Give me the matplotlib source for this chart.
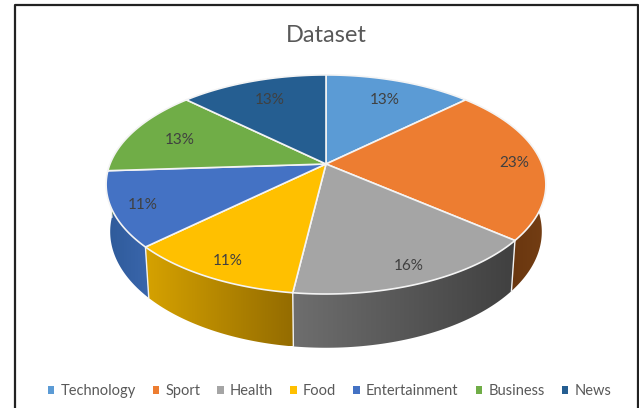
import numpy as np
import matplotlib
matplotlib.use("Agg")
import matplotlib.pyplot as plt
from matplotlib.colors import LinearSegmentedColormap
from matplotlib.patches import Patch, Polygon

categories = ["Technology", "Sport", "Health", "Food", "Entertainment", "Business", "News"]
shares = [13, 23, 16, 11, 11, 13, 13]
colors = ["#5B9BD5", "#ED7D31", "#A5A5A5", "#FFC000", "#4472C4", "#70AD47", "#255E91"]
# side wall shading, left to right
wall_colors = [
    ("#2F5F8F", "#2F5F8F"),
    ("#5A2C08", "#743E14"),
    ("#6E6E6E", "#404040"),
    ("#D6A200", "#946C00"),
    ("#2E5A99", "#3A66AC"),
    ("#46702C", "#46702C"),
    ("#173B5C", "#173B5C"),
]

W, H = 639, 408
CX, CY = 326, 164
TILT = 0.187


def project(theta, r=1.0, sx=216.0, sy=105.7, cy=CY):
    # tilted disc seen in perspective, theta clockwise from twelve o'clock
    x = r * np.sin(theta)
    y = r * np.cos(theta)
    w = 1 + TILT * y
    return CX + sx * x / w, cy - sy * y / w


def arc(start, stop, **kw):
    t = np.linspace(start, stop, 80)
    return np.column_stack(project(t, **kw))


def bottom_arc(start, stop):
    return arc(start, stop, sx=212.0, sy=112.0, cy=210)


plt.rcParams["font.family"] = ["Lato", "DejaVu Sans"]
fig = plt.figure(figsize=(W / 100, H / 100), dpi=100)
ax = fig.add_axes([0, 0, 1, 1])

edges = np.cumsum([0] + shares) / sum(shares) * 2 * np.pi
spans = list(zip(edges[:-1], edges[1:]))

# walls first, the top face hides whatever faces backwards
for (a, b), (c0, c1) in zip(spans, wall_colors):
    outline = np.vstack([arc(a, b), bottom_arc(a, b)[::-1]])
    poly = Polygon(outline, closed=True, fc="none", ec="none")
    ax.add_patch(poly)
    cmap = LinearSegmentedColormap.from_list("wall", [c0, c1])
    img = ax.imshow(
        np.linspace(0, 1, 128).reshape(1, -1), cmap=cmap, aspect="auto",
        extent=[outline[:, 0].min(), outline[:, 0].max(),
                outline[:, 1].max(), outline[:, 1].min()],
        zorder=1,
    )
    img.set_clip_path(poly)

# separators on the wall
for e in edges[1:-1]:
    top = arc(e, e)[0]
    low = bottom_arc(e, e)[0]
    ax.plot([top[0], low[0]], [top[1], low[1]], color="#F2F2F2", lw=1.0, zorder=2)

for (a, b), col in zip(spans, colors):
    face = np.vstack([[CX, CY], arc(a, b)])
    ax.add_patch(Polygon(face, closed=True, fc=col, ec="#F4F4F4", lw=1.2, zorder=3))

for (a, b), share in zip(spans, shares):
    mid = (a + b) / 2
    r = 0.76 if np.cos(mid) > 0.2 else 0.87
    x, y = project(mid, r=r)
    ax.text(x + 1, y + 1.5, f"{share}%", ha="center", va="center", fontsize=11,
            color="#404040", zorder=4)

ax.text(326, 36, "Dataset", ha="center", va="center", fontsize=17, color="#595959")

# chart frame
ax.plot([14.5, 14.5, 637.5, 637.5], [H, 5, 5, H], color="#222222", lw=1.6)

handles = [Patch(fc=c, ec="none") for c in colors]
ax.legend(handles, categories, loc="center", bbox_to_anchor=(329.5 / W, 1 - 391 / H),
          ncol=7, frameon=False, fontsize=10.5, labelcolor="#595959",
          handlelength=0.42, handleheight=0.42, handletextpad=0.45, columnspacing=1.17)

ax.set_xlim(0, W)
ax.set_ylim(H, 0)
ax.axis("off")
fig.savefig("out.png", dpi=100)
